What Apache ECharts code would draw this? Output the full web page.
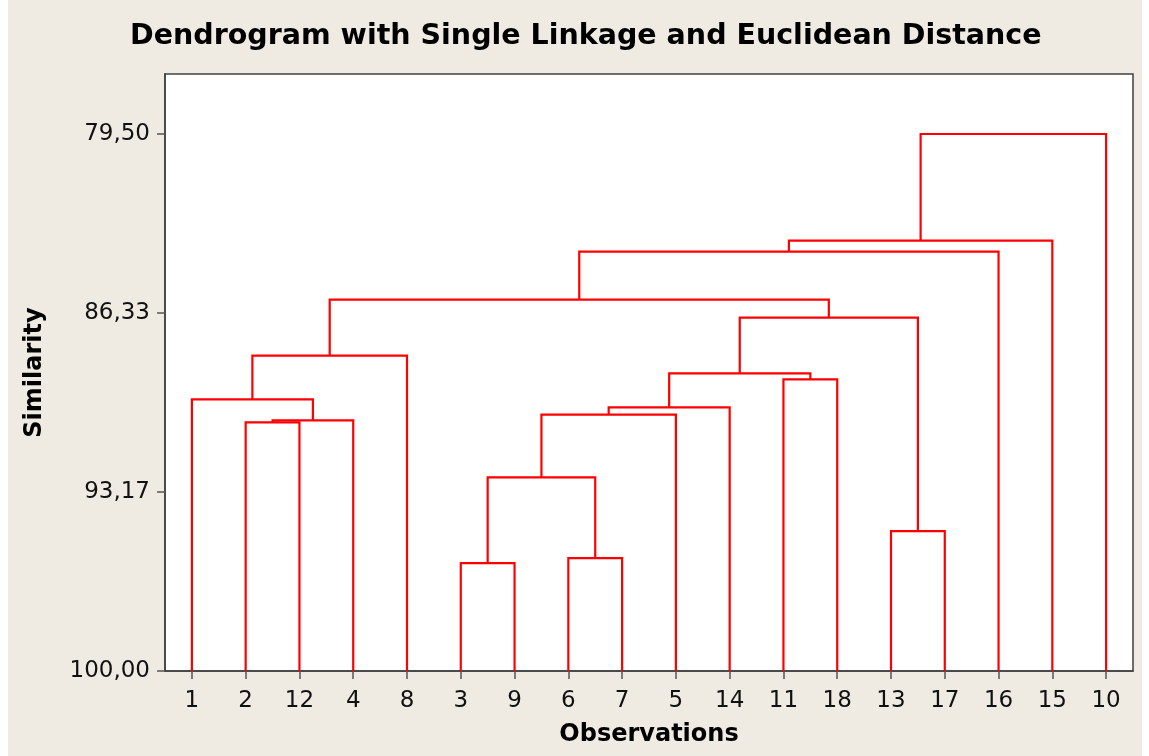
<!DOCTYPE html>
<html>
<head>
<meta charset="utf-8">
<script src="https://cdn.jsdelivr.net/npm/echarts@6/dist/echarts.min.js"></script>
<style>
html, body { margin: 0; padding: 0; background: #fff; }
#chart { position: absolute; left: 8px; top: 0; width: 1134px; height: 756px; }
</style>
</head>
<body>
<div id="chart"></div>
<script>
// leaf order along the x axis
const leafLabels = ['1', '2', '12', '4', '8', '3', '9', '6', '7', '5', '14', '11', '18', '13', '17', '16', '15', '10']
// merge steps: cN is the cluster made at step N
const mergeLeft  = ['2', 'c1', '1', 'c3', '3', '6', 'c5', 'c7', 'c8', '11', 'c9', '13', 'c11', 'c4', 'c14', 'c15', 'c16']
const mergeRight = ['12', '4', 'c2', '8', '9', '7', 'c6', '5', '14', '18', 'c10', '17', 'c12', 'c13', '16', '15', '10']
const mergeSim   = [90.51, 90.43, 89.63, 87.96, 95.88, 95.69, 92.61, 90.21, 89.94, 88.87, 88.64, 94.66, 86.51, 85.82, 83.99, 83.57, 79.50]
const yTicks = [79.50, 86.33, 93.17, 100.00]

const pos = {}
const height = {}
leafLabels.forEach((l, i) => { pos[l] = i; height[l] = 100 })
const links = mergeSim.map((s, i) => {
  const a = mergeLeft[i], b = mergeRight[i]
  const item = [pos[a], height[a], pos[b], height[b], s]
  pos['c' + (i + 1)] = (pos[a] + pos[b]) / 2
  height['c' + (i + 1)] = s
  return item
})

const chart = echarts.init(document.getElementById('chart'))
const font = 'DejaVu Sans'
const axisColor = '#404040'
chart.setOption({
  backgroundColor: '#efebe2',
  animation: false,
  title: {
    text: 'Dendrogram with Single Linkage and Euclidean Distance',
    left: 117,
    top: 17,
    textStyle: { fontFamily: font, fontSize: 28.5, fontWeight: 'bold', color: '#000' }
  },
  grid: {
    show: true,
    left: 157,
    right: 9,
    top: 74,
    bottom: 85,
    outerBoundsMode: 'none',
    containLabel: false,
    backgroundColor: '#fff',
    borderColor: axisColor,
    borderWidth: 1.5
  },
  xAxis: [
    {
      type: 'category',
      data: leafLabels,
      boundaryGap: true,
      name: 'Observations',
      nameLocation: 'middle',
      nameGap: 52,
      nameTextStyle: { fontFamily: font, fontSize: 24, fontWeight: 'bold', color: '#000' },
      axisLine: { show: true, onZero: false, lineStyle: { color: axisColor, width: 1.5 } },
      axisTick: { show: true, alignWithLabel: true, interval: 0, length: 8, lineStyle: { color: '#555', width: 1.5 } },
      axisLabel: { interval: 0, margin: 19, fontFamily: font, fontSize: 23, color: '#111' },
      splitLine: { show: false }
    },
    { type: 'value', min: -0.5, max: 17.5, show: false, axisLine: { onZero: false } }
  ],
  yAxis: {
    type: 'value',
    inverse: true,
    min: 77.21,
    max: 100,
    name: 'Similarity',
    nameLocation: 'middle',
    nameGap: 118,
    nameTextStyle: { fontFamily: font, fontSize: 24, fontWeight: 'bold', color: '#000' },
    axisLine: { show: true, onZero: false, lineStyle: { color: axisColor, width: 1.5 } },
    axisTick: { show: true, customValues: yTicks, length: 8, lineStyle: { color: '#555', width: 1.5 } },
    axisLabel: {
      customValues: yTicks,
      margin: 15,
      fontFamily: font,
      fontSize: 23,
      color: '#111',
      formatter: v => v.toFixed(2).replace('.', ',')
    },
    splitLine: { show: false }
  },
  series: [{
    type: 'custom',
    xAxisIndex: 1,
    yAxisIndex: 0,
    encode: { x: [0, 2], y: [1, 3, 4] },
    data: links,
    renderItem: (params, api) => {
      const p0 = api.coord([api.value(0), api.value(1)])
      const p1 = api.coord([api.value(0), api.value(4)])
      const p2 = api.coord([api.value(2), api.value(4)])
      const p3 = api.coord([api.value(2), api.value(3)])
      return {
        type: 'polyline',
        shape: { points: [p0, p1, p2, p3] },
        style: { stroke: '#ff0000', lineWidth: 2.2, fill: null }
      }
    }
  }]
})
</script>
</body>
</html>
